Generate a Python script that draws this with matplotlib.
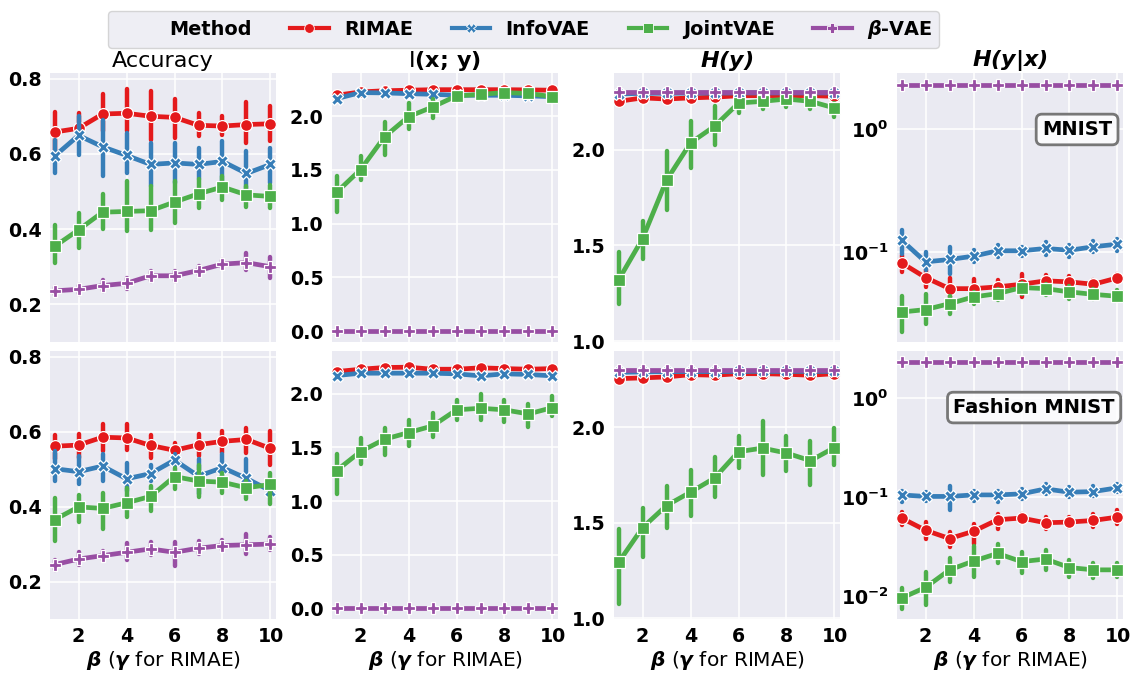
import matplotlib
matplotlib.use("Agg")
import matplotlib.pyplot as plt
from matplotlib.lines import Line2D
from matplotlib.ticker import NullLocator, FixedLocator

# ---------------- data ----------------
beta = [1, 2, 3, 4, 5, 6, 7, 8, 9, 10]
methods = ["RIMAE", "InfoVAE", "JointVAE", r"$\boldsymbol{\beta}$-VAE"]
datasets = ["MNIST", "Fashion MNIST"]
metric_titles = ["Accuracy", r"I$\mathbf{(x;\,y)}$", r"$\mathbfit{H(y)}$", r"$\mathbfit{H(y|x)}$"]
xticks = [2, 4, 6, 8, 10]

# order of inner lists: RIMAE, InfoVAE, JointVAE, beta-VAE
mnist_acc_mean = [[0.658, 0.668, 0.706, 0.708, 0.700, 0.697, 0.676, 0.674, 0.678, 0.680],
                  [0.594, 0.649, 0.619, 0.596, 0.572, 0.576, 0.572, 0.580, 0.548, 0.572],
                  [0.354, 0.398, 0.445, 0.447, 0.449, 0.472, 0.494, 0.512, 0.491, 0.487],
                  [0.236, 0.240, 0.250, 0.256, 0.276, 0.276, 0.290, 0.307, 0.311, 0.300]]
mnist_acc_lo = [[0.611, 0.634, 0.660, 0.660, 0.638, 0.643, 0.647, 0.650, 0.628, 0.634],
                [0.549, 0.598, 0.540, 0.549, 0.514, 0.523, 0.532, 0.523, 0.505, 0.523],
                [0.309, 0.349, 0.400, 0.394, 0.398, 0.416, 0.456, 0.478, 0.460, 0.456],
                [0.226, 0.228, 0.236, 0.242, 0.262, 0.262, 0.278, 0.296, 0.292, 0.269]]
mnist_acc_hi = [[0.711, 0.708, 0.758, 0.772, 0.767, 0.745, 0.708, 0.700, 0.738, 0.727],
                [0.638, 0.700, 0.690, 0.656, 0.629, 0.629, 0.616, 0.634, 0.607, 0.616],
                [0.412, 0.443, 0.494, 0.527, 0.514, 0.527, 0.532, 0.540, 0.514, 0.518],
                [0.246, 0.252, 0.266, 0.270, 0.290, 0.290, 0.302, 0.318, 0.336, 0.327]]

mnist_mi_mean = [[2.193, 2.224, 2.235, 2.240, 2.245, 2.245, 2.245, 2.245, 2.243, 2.240],
                 [2.162, 2.218, 2.215, 2.208, 2.202, 2.193, 2.193, 2.193, 2.187, 2.180],
                 [1.291, 1.502, 1.807, 1.994, 2.084, 2.187, 2.202, 2.218, 2.210, 2.180],
                 [0.000, 0.000, 0.000, 0.000, 0.000, 0.000, 0.000, 0.000, 0.000, 0.000]]
mnist_mi_lo = [[2.175, 2.210, 2.220, 2.225, 2.232, 2.232, 2.232, 2.232, 2.230, 2.226],
               [2.145, 2.205, 2.202, 2.195, 2.188, 2.180, 2.178, 2.175, 2.170, 2.165],
               [1.110, 1.410, 1.640, 1.876, 1.984, 2.160, 2.170, 2.190, 2.180, 2.150],
               [-0.005, -0.005, -0.005, -0.005, -0.005, -0.005, -0.005, -0.005, -0.005, -0.005]]
mnist_mi_hi = [[2.210, 2.238, 2.250, 2.255, 2.258, 2.258, 2.258, 2.258, 2.256, 2.254],
               [2.178, 2.230, 2.228, 2.221, 2.215, 2.206, 2.207, 2.210, 2.204, 2.195],
               [1.440, 1.630, 1.944, 2.118, 2.155, 2.210, 2.230, 2.245, 2.240, 2.210],
               [0.005, 0.005, 0.005, 0.005, 0.005, 0.005, 0.005, 0.005, 0.005, 0.005]]

mnist_hy_mean = [[2.252, 2.270, 2.264, 2.270, 2.274, 2.281, 2.282, 2.282, 2.282, 2.278],
                 [2.290, 2.294, 2.294, 2.295, 2.295, 2.296, 2.296, 2.296, 2.296, 2.296],
                 [1.319, 1.535, 1.840, 2.035, 2.122, 2.243, 2.252, 2.264, 2.252, 2.217],
                 [2.300, 2.300, 2.300, 2.300, 2.300, 2.300, 2.300, 2.300, 2.300, 2.300]]
mnist_hy_lo = [[2.240, 2.260, 2.252, 2.260, 2.264, 2.272, 2.274, 2.274, 2.274, 2.268],
               [2.284, 2.289, 2.289, 2.290, 2.290, 2.291, 2.291, 2.291, 2.291, 2.291],
               [1.193, 1.427, 1.687, 1.905, 2.026, 2.190, 2.210, 2.220, 2.210, 2.170],
               [2.297, 2.297, 2.297, 2.297, 2.297, 2.297, 2.297, 2.297, 2.297, 2.297]]
mnist_hy_hi = [[2.264, 2.280, 2.276, 2.280, 2.284, 2.290, 2.290, 2.290, 2.290, 2.288],
               [2.296, 2.299, 2.299, 2.300, 2.300, 2.300, 2.300, 2.300, 2.300, 2.300],
               [1.465, 1.627, 1.991, 2.148, 2.226, 2.260, 2.270, 2.280, 2.270, 2.243],
               [2.303, 2.303, 2.303, 2.303, 2.303, 2.303, 2.303, 2.303, 2.303, 2.303]]

mnist_hyx_mean = [[0.0813, 0.0617, 0.0501, 0.0501, 0.0518, 0.0544, 0.0580, 0.0569, 0.0544, 0.0613],
                  [0.1245, 0.0828, 0.0866, 0.0922, 0.1020, 0.1020, 0.1065, 0.1030, 0.1100, 0.1155],
                  [0.0323, 0.0338, 0.0378, 0.0429, 0.0456, 0.0511, 0.0501, 0.0471, 0.0450, 0.0434],
                  [2.300, 2.300, 2.300, 2.300, 2.300, 2.300, 2.300, 2.300, 2.300, 2.300]]
mnist_hyx_lo = [[0.0687, 0.0518, 0.0429, 0.0416, 0.0442, 0.0429, 0.0486, 0.0501, 0.0501, 0.0569],
                [0.0969, 0.0708, 0.0665, 0.0828, 0.0910, 0.0920, 0.0940, 0.0910, 0.1000, 0.1020],
                [0.0222, 0.0259, 0.0309, 0.0378, 0.0403, 0.0456, 0.0442, 0.0416, 0.0416, 0.0403],
                [2.290, 2.290, 2.290, 2.290, 2.290, 2.290, 2.290, 2.290, 2.290, 2.290]]
mnist_hyx_hi = [[0.0939, 0.0708, 0.0616, 0.0605, 0.0586, 0.0665, 0.0644, 0.0632, 0.0586, 0.0665],
                [0.1500, 0.1000, 0.1100, 0.1030, 0.1130, 0.1100, 0.1210, 0.1130, 0.1230, 0.1280],
                [0.0434, 0.0451, 0.0434, 0.0471, 0.0501, 0.0558, 0.0551, 0.0523, 0.0501, 0.0486],
                [2.310, 2.310, 2.310, 2.310, 2.310, 2.310, 2.310, 2.310, 2.310, 2.310]]

fashion_acc_mean = [[0.561, 0.564, 0.585, 0.583, 0.563, 0.550, 0.565, 0.574, 0.579, 0.555],
                    [0.501, 0.493, 0.508, 0.474, 0.488, 0.524, 0.481, 0.504, 0.475, 0.442],
                    [0.365, 0.399, 0.395, 0.410, 0.427, 0.480, 0.468, 0.465, 0.450, 0.459],
                    [0.245, 0.260, 0.269, 0.278, 0.287, 0.278, 0.289, 0.296, 0.298, 0.300]]
fashion_acc_lo = [[0.528, 0.530, 0.548, 0.552, 0.530, 0.528, 0.535, 0.543, 0.543, 0.512],
                  [0.468, 0.459, 0.468, 0.442, 0.468, 0.508, 0.433, 0.468, 0.442, 0.428],
                  [0.309, 0.358, 0.340, 0.371, 0.388, 0.446, 0.426, 0.437, 0.419, 0.406],
                  [0.232, 0.243, 0.258, 0.258, 0.272, 0.242, 0.274, 0.284, 0.273, 0.285]]
fashion_acc_hi = [[0.592, 0.594, 0.619, 0.619, 0.592, 0.570, 0.594, 0.601, 0.610, 0.601],
                  [0.548, 0.535, 0.539, 0.517, 0.512, 0.539, 0.526, 0.539, 0.526, 0.459],
                  [0.424, 0.431, 0.437, 0.450, 0.455, 0.504, 0.512, 0.490, 0.468, 0.490],
                  [0.258, 0.280, 0.282, 0.304, 0.305, 0.305, 0.307, 0.312, 0.327, 0.320]]

fashion_mi_mean = [[2.208, 2.230, 2.246, 2.249, 2.230, 2.230, 2.243, 2.236, 2.230, 2.236],
                   [2.171, 2.193, 2.193, 2.193, 2.193, 2.187, 2.168, 2.187, 2.181, 2.168],
                   [1.285, 1.462, 1.577, 1.639, 1.701, 1.851, 1.866, 1.851, 1.813, 1.872],
                   [0.000, 0.000, 0.000, 0.000, 0.000, 0.000, 0.000, 0.000, 0.000, 0.000]]
fashion_mi_lo = [[2.195, 2.218, 2.232, 2.236, 2.218, 2.218, 2.230, 2.224, 2.218, 2.224],
                 [2.158, 2.181, 2.181, 2.181, 2.181, 2.175, 2.156, 2.175, 2.169, 2.156],
                 [1.067, 1.347, 1.430, 1.515, 1.600, 1.757, 1.760, 1.740, 1.695, 1.790],
                 [-0.005, -0.005, -0.005, -0.005, -0.005, -0.005, -0.005, -0.005, -0.005, -0.005]]
fashion_mi_hi = [[2.221, 2.242, 2.260, 2.262, 2.242, 2.242, 2.256, 2.248, 2.242, 2.248],
                 [2.184, 2.205, 2.205, 2.205, 2.205, 2.199, 2.180, 2.199, 2.193, 2.180],
                 [1.440, 1.586, 1.680, 1.760, 1.820, 1.944, 2.000, 1.940, 1.910, 1.980],
                 [0.005, 0.005, 0.005, 0.005, 0.005, 0.005, 0.005, 0.005, 0.005, 0.005]]

fashion_hy_mean = [[2.255, 2.259, 2.264, 2.276, 2.273, 2.281, 2.281, 2.278, 2.273, 2.281],
                   [2.288, 2.290, 2.292, 2.292, 2.292, 2.293, 2.293, 2.293, 2.293, 2.293],
                   [1.292, 1.474, 1.590, 1.660, 1.734, 1.872, 1.891, 1.865, 1.825, 1.894],
                   [2.300, 2.300, 2.300, 2.300, 2.300, 2.300, 2.300, 2.300, 2.300, 2.300]]
fashion_hy_lo = [[2.245, 2.249, 2.254, 2.268, 2.265, 2.273, 2.273, 2.270, 2.265, 2.273],
                 [2.283, 2.285, 2.287, 2.287, 2.287, 2.288, 2.288, 2.288, 2.288, 2.288],
                 [1.075, 1.318, 1.474, 1.535, 1.635, 1.786, 1.752, 1.769, 1.700, 1.804],
                 [2.297, 2.297, 2.297, 2.297, 2.297, 2.297, 2.297, 2.297, 2.297, 2.297]]
fashion_hy_hi = [[2.265, 2.269, 2.274, 2.284, 2.281, 2.289, 2.289, 2.286, 2.281, 2.289],
                 [2.293, 2.295, 2.297, 2.297, 2.297, 2.298, 2.298, 2.298, 2.298, 2.298],
                 [1.465, 1.578, 1.690, 1.774, 1.844, 1.955, 2.033, 1.955, 1.930, 1.995],
                 [2.303, 2.303, 2.303, 2.303, 2.303, 2.303, 2.303, 2.303, 2.303, 2.303]]

fashion_hyx_mean = [[0.0617, 0.0464, 0.0383, 0.0454, 0.0593, 0.0617, 0.0553, 0.0562, 0.0584, 0.0631],
                    [0.1056, 0.1020, 0.1020, 0.1056, 0.1056, 0.1082, 0.1216, 0.1125, 0.1142, 0.1247],
                    [0.0096, 0.0123, 0.0185, 0.0227, 0.0271, 0.0224, 0.0238, 0.0195, 0.0185, 0.0185],
                    [2.300, 2.300, 2.300, 2.300, 2.300, 2.300, 2.300, 2.300, 2.300, 2.300]]
fashion_hyx_lo = [[0.0529, 0.0383, 0.0316, 0.0341, 0.0482, 0.0562, 0.0482, 0.0501, 0.0501, 0.0541],
                  [0.0905, 0.0926, 0.0736, 0.0926, 0.0905, 0.0962, 0.1080, 0.1000, 0.1023, 0.1120],
                  [0.00736, 0.00825, 0.0141, 0.0158, 0.0215, 0.0171, 0.0185, 0.0158, 0.0153, 0.0158],
                  [2.290, 2.290, 2.290, 2.290, 2.290, 2.290, 2.290, 2.290, 2.290, 2.290]]
fashion_hyx_hi = [[0.0708, 0.0562, 0.0447, 0.0541, 0.0681, 0.0681, 0.0631, 0.0631, 0.0681, 0.0736],
                  [0.1166, 0.1122, 0.1308, 0.1166, 0.1166, 0.1210, 0.1360, 0.1260, 0.1290, 0.1360],
                  [0.0121, 0.0178, 0.0242, 0.0324, 0.0341, 0.0282, 0.0293, 0.0233, 0.0215, 0.0215],
                  [2.310, 2.310, 2.310, 2.310, 2.310, 2.310, 2.310, 2.310, 2.310, 2.310]]

# ---------------- style ----------------
colors = ["#e41a1c", "#377eb8", "#4daf4a", "#984ea3"]
markers = ["o", "X", "s", "P"]
plt.rcParams["font.family"] = ["DejaVu Sans"]
plt.rcParams["font.weight"] = "bold"
plt.rcParams["mathtext.fontset"] = "dejavusans"

panels = [
    [(mnist_acc_mean, mnist_acc_lo, mnist_acc_hi), (mnist_mi_mean, mnist_mi_lo, mnist_mi_hi),
     (mnist_hy_mean, mnist_hy_lo, mnist_hy_hi), (mnist_hyx_mean, mnist_hyx_lo, mnist_hyx_hi)],
    [(fashion_acc_mean, fashion_acc_lo, fashion_acc_hi), (fashion_mi_mean, fashion_mi_lo, fashion_mi_hi),
     (fashion_hy_mean, fashion_hy_lo, fashion_hy_hi), (fashion_hyx_mean, fashion_hyx_lo, fashion_hyx_hi)],
]

W, H = 1141, 674
fig = plt.figure(figsize=(W / 100, H / 100), dpi=100)
col_left = [50, 332, 614, 897]
col_w = 226
row_span = [(73, 342), (351, 619)]
ylims = [[(0.10, 0.815), (-0.10, 2.40), (0.995, 2.40), (0.0184, 2.87)],
         [(0.10, 0.815), (-0.10, 2.40), (0.995, 2.40), (0.0059, 3.0)]]
yticks = [[0.2, 0.4, 0.6, 0.8], [0.0, 0.5, 1.0, 1.5, 2.0], [1.0, 1.5, 2.0], [0.01, 0.1, 1.0]]
label_pos = [(0.952, 0.79), (0.964, 0.789)]

for r in range(2):
    for c in range(4):
        top, bot = row_span[r]
        ax = fig.add_axes([col_left[c] / W, 1 - bot / H, col_w / W, (bot - top) / H])
        ax.set_facecolor("#EAEAF2")
        for s in ax.spines.values():
            s.set_visible(False)
        ax.grid(True, color="white", lw=1.1, zorder=0)
        ax.set_axisbelow(True)
        means, los, his = panels[r][c]
        for k in range(4):
            ax.vlines(beta, los[k], his[k], colors=colors[k], lw=3.2, zorder=2 + k,
                      capstyle="round")
            ax.plot(beta, means[k], color=colors[k], lw=3.4, marker=markers[k], ms=8.5,
                    mec="white", mew=0.9, zorder=2.5 + k, solid_capstyle="round")
        if c == 3:
            ax.set_yscale("log")
            ax.yaxis.set_minor_locator(NullLocator())
        ax.yaxis.set_major_locator(FixedLocator(yticks[c]))
        ax.set_ylim(*ylims[r][c])
        ax.set_xlim(0.81, 10.23)
        ax.set_xticks(xticks)
        ax.tick_params(length=0, pad=6, labelsize=13.7)
        if r == 0:
            ax.set_xticklabels([])
            ax.set_title(metric_titles[c], fontsize=16, fontweight="normal", pad=4)
        else:
            ax.set_xlabel(r"$\boldsymbol{\beta}$ ($\boldsymbol{\gamma}$ for RIMAE)",
                          fontsize=14.5, fontweight="normal", labelpad=2)
        if c == 3:
            lx, ly = label_pos[r]
            ax.text(lx, ly, datasets[r], transform=ax.transAxes, ha="right", va="center",
                    fontsize=14, fontweight="bold", zorder=10,
                    bbox=dict(boxstyle="round,pad=0.3", fc=(1, 1, 1, 0.8), ec="#777777", lw=2))

handles = [Line2D([], [], color="none")]
labels = ["Method"]
for k in range(4):
    handles.append(Line2D([], [], color=colors[k], lw=3, marker=markers[k], ms=7,
                          mec="white", mew=0.6))
    labels.append(methods[k])
fig.legend(handles, labels, loc="upper center", bbox_to_anchor=(0.459, 0.998), ncol=5,
           fontsize=13.9, frameon=True, facecolor="#EAEAF2", edgecolor="0.8",
           borderpad=0.35)

fig.savefig("out.png", dpi=100)
